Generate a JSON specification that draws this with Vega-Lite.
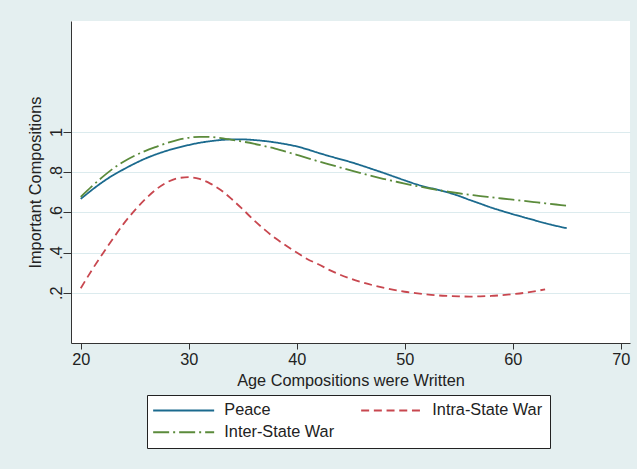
{
  "$schema": "https://vega.github.io/schema/vega-lite/v6.json",
  "width": 559,
  "height": 322,
  "autosize": {"type": "none"},
  "padding": {"left": 71, "top": 21, "right": 7, "bottom": 126},
  "background": "#E4EFF0",
  "config": {
    "view": {"fill": "white", "stroke": null},
    "font": "Liberation Sans",
    "legend": {
      "title": null,
      "orient": "none",
      "legendX": 76,
      "legendY": 374,
      "columns": 2,
      "columnPadding": 22,
      "rowPadding": 5,
      "padding": 7,
      "strokeColor": "#222",
      "fillColor": "white",
      "cornerRadius": 0,
      "symbolType": "M-9,0H52",
      "symbolSize": 4,
      "symbolStrokeWidth": 2,
      "labelFontSize": 16.3,
      "labelColor": "#222",
      "labelOffset": 54,
      "labelLimit": 250
    }
  },
  "datasets": {
    "fits": [
      {"series": "Peace", "age": 20, "value": 0.667},
      {"series": "Peace", "age": 21, "value": 0.71},
      {"series": "Peace", "age": 22, "value": 0.75},
      {"series": "Peace", "age": 23, "value": 0.785},
      {"series": "Peace", "age": 24, "value": 0.815},
      {"series": "Peace", "age": 25, "value": 0.843},
      {"series": "Peace", "age": 26, "value": 0.868},
      {"series": "Peace", "age": 27, "value": 0.889},
      {"series": "Peace", "age": 28, "value": 0.907},
      {"series": "Peace", "age": 29, "value": 0.922},
      {"series": "Peace", "age": 30, "value": 0.935},
      {"series": "Peace", "age": 31, "value": 0.946},
      {"series": "Peace", "age": 32, "value": 0.954},
      {"series": "Peace", "age": 33, "value": 0.96},
      {"series": "Peace", "age": 34, "value": 0.963},
      {"series": "Peace", "age": 35, "value": 0.963},
      {"series": "Peace", "age": 36, "value": 0.96},
      {"series": "Peace", "age": 37, "value": 0.955},
      {"series": "Peace", "age": 38, "value": 0.948},
      {"series": "Peace", "age": 39, "value": 0.939},
      {"series": "Peace", "age": 40, "value": 0.928},
      {"series": "Peace", "age": 41, "value": 0.913},
      {"series": "Peace", "age": 42, "value": 0.896},
      {"series": "Peace", "age": 43, "value": 0.88},
      {"series": "Peace", "age": 44, "value": 0.865},
      {"series": "Peace", "age": 45, "value": 0.85},
      {"series": "Peace", "age": 46, "value": 0.833},
      {"series": "Peace", "age": 47, "value": 0.815},
      {"series": "Peace", "age": 48, "value": 0.797},
      {"series": "Peace", "age": 49, "value": 0.778},
      {"series": "Peace", "age": 50, "value": 0.759},
      {"series": "Peace", "age": 51, "value": 0.741},
      {"series": "Peace", "age": 52, "value": 0.726},
      {"series": "Peace", "age": 53, "value": 0.713},
      {"series": "Peace", "age": 54, "value": 0.699},
      {"series": "Peace", "age": 55, "value": 0.682},
      {"series": "Peace", "age": 56, "value": 0.662},
      {"series": "Peace", "age": 57, "value": 0.643},
      {"series": "Peace", "age": 58, "value": 0.624},
      {"series": "Peace", "age": 59, "value": 0.607},
      {"series": "Peace", "age": 60, "value": 0.591},
      {"series": "Peace", "age": 61, "value": 0.576},
      {"series": "Peace", "age": 62, "value": 0.561},
      {"series": "Peace", "age": 63, "value": 0.546},
      {"series": "Peace", "age": 64, "value": 0.533},
      {"series": "Peace", "age": 65, "value": 0.521},

      {"series": "Intra-State War", "age": 20, "value": 0.222},
      {"series": "Intra-State War", "age": 21, "value": 0.31},
      {"series": "Intra-State War", "age": 22, "value": 0.392},
      {"series": "Intra-State War", "age": 23, "value": 0.47},
      {"series": "Intra-State War", "age": 24, "value": 0.545},
      {"series": "Intra-State War", "age": 25, "value": 0.61},
      {"series": "Intra-State War", "age": 26, "value": 0.667},
      {"series": "Intra-State War", "age": 27, "value": 0.715},
      {"series": "Intra-State War", "age": 28, "value": 0.75},
      {"series": "Intra-State War", "age": 29, "value": 0.77},
      {"series": "Intra-State War", "age": 30, "value": 0.775},
      {"series": "Intra-State War", "age": 31, "value": 0.766},
      {"series": "Intra-State War", "age": 32, "value": 0.743},
      {"series": "Intra-State War", "age": 33, "value": 0.71},
      {"series": "Intra-State War", "age": 34, "value": 0.665},
      {"series": "Intra-State War", "age": 35, "value": 0.615},
      {"series": "Intra-State War", "age": 36, "value": 0.563},
      {"series": "Intra-State War", "age": 37, "value": 0.515},
      {"series": "Intra-State War", "age": 38, "value": 0.472},
      {"series": "Intra-State War", "age": 39, "value": 0.435},
      {"series": "Intra-State War", "age": 40, "value": 0.4},
      {"series": "Intra-State War", "age": 41, "value": 0.367},
      {"series": "Intra-State War", "age": 42, "value": 0.342},
      {"series": "Intra-State War", "age": 43, "value": 0.314},
      {"series": "Intra-State War", "age": 44, "value": 0.29},
      {"series": "Intra-State War", "age": 45, "value": 0.27},
      {"series": "Intra-State War", "age": 46, "value": 0.253},
      {"series": "Intra-State War", "age": 47, "value": 0.238},
      {"series": "Intra-State War", "age": 48, "value": 0.225},
      {"series": "Intra-State War", "age": 49, "value": 0.214},
      {"series": "Intra-State War", "age": 50, "value": 0.205},
      {"series": "Intra-State War", "age": 51, "value": 0.198},
      {"series": "Intra-State War", "age": 52, "value": 0.192},
      {"series": "Intra-State War", "age": 53, "value": 0.187},
      {"series": "Intra-State War", "age": 54, "value": 0.184},
      {"series": "Intra-State War", "age": 55, "value": 0.182},
      {"series": "Intra-State War", "age": 56, "value": 0.181},
      {"series": "Intra-State War", "age": 57, "value": 0.182},
      {"series": "Intra-State War", "age": 58, "value": 0.184},
      {"series": "Intra-State War", "age": 59, "value": 0.188},
      {"series": "Intra-State War", "age": 60, "value": 0.193},
      {"series": "Intra-State War", "age": 61, "value": 0.199},
      {"series": "Intra-State War", "age": 62, "value": 0.207},
      {"series": "Intra-State War", "age": 63, "value": 0.217},

      {"series": "Inter-State War", "age": 20, "value": 0.677},
      {"series": "Inter-State War", "age": 21, "value": 0.728},
      {"series": "Inter-State War", "age": 22, "value": 0.775},
      {"series": "Inter-State War", "age": 23, "value": 0.818},
      {"series": "Inter-State War", "age": 24, "value": 0.853},
      {"series": "Inter-State War", "age": 25, "value": 0.882},
      {"series": "Inter-State War", "age": 26, "value": 0.906},
      {"series": "Inter-State War", "age": 27, "value": 0.926},
      {"series": "Inter-State War", "age": 28, "value": 0.945},
      {"series": "Inter-State War", "age": 29, "value": 0.961},
      {"series": "Inter-State War", "age": 30, "value": 0.971},
      {"series": "Inter-State War", "age": 31, "value": 0.976},
      {"series": "Inter-State War", "age": 32, "value": 0.975},
      {"series": "Inter-State War", "age": 33, "value": 0.969},
      {"series": "Inter-State War", "age": 34, "value": 0.961},
      {"series": "Inter-State War", "age": 35, "value": 0.952},
      {"series": "Inter-State War", "age": 36, "value": 0.942},
      {"series": "Inter-State War", "age": 37, "value": 0.93},
      {"series": "Inter-State War", "age": 38, "value": 0.917},
      {"series": "Inter-State War", "age": 39, "value": 0.902},
      {"series": "Inter-State War", "age": 40, "value": 0.886},
      {"series": "Inter-State War", "age": 41, "value": 0.87},
      {"series": "Inter-State War", "age": 42, "value": 0.854},
      {"series": "Inter-State War", "age": 43, "value": 0.839},
      {"series": "Inter-State War", "age": 44, "value": 0.824},
      {"series": "Inter-State War", "age": 45, "value": 0.809},
      {"series": "Inter-State War", "age": 46, "value": 0.794},
      {"series": "Inter-State War", "age": 47, "value": 0.78},
      {"series": "Inter-State War", "age": 48, "value": 0.767},
      {"series": "Inter-State War", "age": 49, "value": 0.755},
      {"series": "Inter-State War", "age": 50, "value": 0.743},
      {"series": "Inter-State War", "age": 51, "value": 0.732},
      {"series": "Inter-State War", "age": 52, "value": 0.722},
      {"series": "Inter-State War", "age": 53, "value": 0.712},
      {"series": "Inter-State War", "age": 54, "value": 0.703},
      {"series": "Inter-State War", "age": 55, "value": 0.695},
      {"series": "Inter-State War", "age": 56, "value": 0.688},
      {"series": "Inter-State War", "age": 57, "value": 0.681},
      {"series": "Inter-State War", "age": 58, "value": 0.675},
      {"series": "Inter-State War", "age": 59, "value": 0.669},
      {"series": "Inter-State War", "age": 60, "value": 0.663},
      {"series": "Inter-State War", "age": 61, "value": 0.657},
      {"series": "Inter-State War", "age": 62, "value": 0.651},
      {"series": "Inter-State War", "age": 63, "value": 0.645},
      {"series": "Inter-State War", "age": 64, "value": 0.639},
      {"series": "Inter-State War", "age": 65, "value": 0.633}
    ]
  },
  "data": {"name": "fits"},
  "mark": {"type": "line", "strokeWidth": 1.8, "interpolate": "monotone", "strokeCap": "butt"},
  "encoding": {
    "x": {
      "field": "age",
      "type": "quantitative",
      "scale": {"domain": [19.1, 70.86], "nice": false, "zero": false},
      "axis": {
        "title": "Age Compositions were Written",
        "values": [20, 30, 40, 50, 60, 70],
        "grid": false,
        "domainColor": "#333",
        "domainWidth": 1,
        "tickColor": "#333",
        "tickSize": 6,
        "labelFontSize": 16.3,
        "labelColor": "#222",
        "labelPadding": 2,
        "labelFlush": false,
        "titleFontSize": 16.3,
        "titleFontWeight": "normal",
        "titleColor": "#222",
        "titleBaseline": "alphabetic",
        "titleX": 279.5,
        "titleY": 42
      }
    },
    "y": {
      "field": "value",
      "type": "quantitative",
      "scale": {"domain": [-0.05, 1.552], "nice": false, "zero": false},
      "axis": {
        "title": "Important Compositions",
        "values": [0.2, 0.4, 0.6, 0.8, 1],
        "labelExpr": "datum.value == 1 ? '1' : replace(format(datum.value, '.1f'), '0.', '.')",
        "grid": true,
        "gridColor": "#DCEBEE",
        "gridWidth": 1.2,
        "domainColor": "#333",
        "domainWidth": 1,
        "tickColor": "#333",
        "tickSize": 8,
        "labelAngle": -90,
        "labelAlign": "center",
        "labelBaseline": "alphabetic",
        "labelFontSize": 16.3,
        "labelColor": "#222",
        "labelPadding": 2,
        "labelFlush": false,
        "titleFontSize": 16.3,
        "titleFontWeight": "normal",
        "titleColor": "#222",
        "titleAngle": -90,
        "titleAlign": "center",
        "titleBaseline": "alphabetic",
        "titleX": -31,
        "titleY": 161
      }
    },
    "color": {
      "field": "series",
      "type": "nominal",
      "scale": {
        "domain": ["Peace", "Inter-State War", "Intra-State War"],
        "range": ["#1B6A8E", "#5B8B3B", "#C8474F"]
      }
    },
    "strokeDash": {
      "field": "series",
      "type": "nominal",
      "scale": {
        "domain": ["Peace", "Inter-State War", "Intra-State War"],
        "range": [[1, 0], [16, 4, 2, 4], [8, 4.7]]
      }
    }
  }
}
